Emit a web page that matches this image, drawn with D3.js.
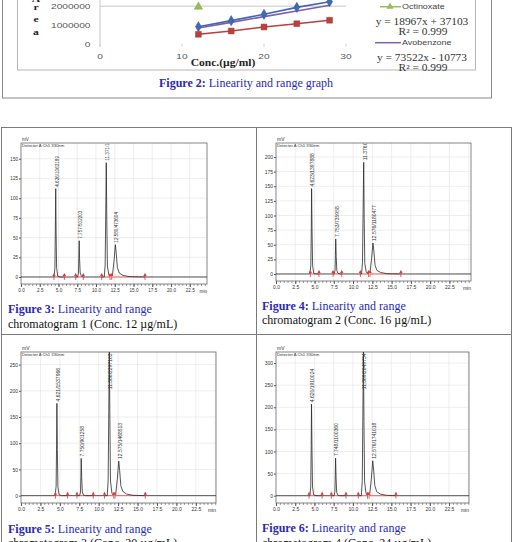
<!DOCTYPE html>
<html>
<head>
<meta charset="utf-8">
<script src="https://cdn.jsdelivr.net/npm/d3@7"></script>
<style>
  body { margin: 0; background: #fff; }
  svg { display: block; }
</style>
</head>
<body>
<svg id="page" width="513" height="542"></svg>
<script>
// ---------- Figure 2 (linearity graph, top cut off) ----------
const concentrations = [12, 16, 20, 24, 28];
const areaBlue = [935000, 1250000, 1580000, 1940000, 2230000];
const areaAvobenzone = [870000, 1160000, 1460000, 1750000, 2050000];
const areaRed = [540000, 710000, 920000, 1090000, 1270000];
const areaOctinoxate = [1970000];          // only the 12 ug/ml point is inside the frame
const concTicks = [0, 10, 20, 30];
const areaTicks = [0, 1000000, 2000000];
const legendNames = ["Octinoxate", "Avobenzone"];
const legendEquations = ["y = 18967x + 37103", "y = 73522x - 10773"];
const legendR2 = ["R² = 0.999", "R² = 0.999"];

// ---------- Chromatograms ----------
// [time (min), signal (mV)]
const trace1 = [[0,0],[4.40,0],[4.52,11],[4.58,62],[4.63,112],[4.68,56],[4.75,11],[4.90,1],[5.20,0],
  [7.55,0],[7.66,5],[7.71,25],[7.76,46],[7.81,23],[7.89,5],[8.05,1],[8.30,0],
  [11.10,0],[11.22,15],[11.30,80],[11.37,145],[11.44,72],[11.52,14],[11.70,3],[11.85,1],
  [12.20,3],[12.40,20],[12.58,41],[12.70,30],[12.85,12],[13.10,5],[13.60,2],[14.40,0.5],[16.5,0],[24.8,0]];
const trace2 = [[0,0],[4.40,0],[4.52,15],[4.58,80],[4.62,146],[4.68,72],[4.75,14],[4.90,1],[5.20,0],
  [7.55,0],[7.66,6],[7.71,32],[7.75,60],[7.81,30],[7.89,6],[8.05,1],[8.30,0],
  [11.10,0],[11.22,20],[11.30,105],[11.38,191],[11.44,95],[11.52,18],[11.70,4],[11.85,1],
  [12.20,3],[12.40,26],[12.58,53],[12.70,39],[12.85,15],[13.10,6],[13.60,2.5],[14.40,0.5],[16.2,0],[25.3,0]];
const trace3 = [[0,0],[4.40,0],[4.52,18],[4.58,97],[4.62,176],[4.68,88],[4.75,17],[4.90,2],[5.20,0],
  [7.55,0],[7.66,7],[7.71,38],[7.75,71],[7.81,35],[7.89,7],[8.05,1],[8.30,0],
  [11.10,0],[11.22,30],[11.30,160],[11.37,290],[11.44,145],[11.52,28],[11.70,5],[11.85,1.5],
  [12.20,4],[12.40,32],[12.58,66],[12.70,48],[12.85,19],[13.10,8],[13.60,3],[14.40,0.7],[16.0,0],[25.1,0]];
const trace4 = [[0,0],[4.40,0],[4.52,21],[4.58,114],[4.62,207],[4.68,103],[4.75,20],[4.90,2],[5.20,0],
  [7.55,0],[7.66,9],[7.71,45],[7.75,85],[7.81,42],[7.89,8],[8.05,1],[8.30,0],
  [11.10,0],[11.22,34],[11.30,185],[11.37,335],[11.44,168],[11.52,32],[11.70,6],[11.85,2],
  [12.20,5],[12.40,38],[12.58,79],[12.70,58],[12.85,23],[13.10,9],[13.60,3.5],[14.40,0.8],[15.6,0],[25.1,0]];

// peak apex [time, mV, label]
const peaks1 = [[4.63,112,"4.626/1063189"],[7.76,46,"7.757/502203"],[11.37,145,"11.371/1431608"],[12.58,41,"12.580/473604"]];
const peaks2 = [[4.62,146,"4.623/1397888"],[7.75,60,"7.753/735958"],[11.38,191,"11.376/1870836"],[12.58,53,"12.576/1180477"]];
const peaks3 = [[4.62,176,"4.621/1537966"],[7.75,71,"7.750/901258"],[11.37,290,"11.366/2297103"],[12.58,66,"12.575/1468513"]];
const peaks4 = [[4.62,207,"4.620/1910024"],[7.75,85,"7.748/1100360"],[11.37,335,"11.369/2649734"],[12.58,79,"12.576/1741018"]];

// integration start/end marks (min)
const events1 = [4.40, 5.78, 7.29, 8.31, 10.76, 11.87, 12.09, 16.53];
const events2 = [4.46, 5.58, 7.40, 8.53, 10.95, 12.00, 12.20, 16.20];
const events3 = [4.43, 6.00, 7.20, 9.30, 10.75, 11.95, 12.10, 16.00];
const events4 = [4.30, 6.00, 7.20, 9.10, 10.70, 11.90, 12.10, 15.60];

const yTicks1 = [0, 25, 50, 75, 100, 125, 150];
const yTicks2 = [0, 25, 50, 75, 100, 125, 150, 175, 200];
const yTicks3 = [0, 50, 100, 150, 200, 250];
const yTicks4 = [0, 50, 100, 150, 200, 250, 300];
const timeTicks = [0, 2.5, 5, 7.5, 10, 12.5, 15, 17.5, 20, 22.5];

const figNumbers = ["Figure 3:", "Figure 4:", "Figure 5:", "Figure 6:"];
const figTitles = ["chromatogram 1 (Conc. 12 µg/mL)", "chromatogram 2 (Conc. 16 µg/mL)",
                   "chromatogram 3 (Conc. 20 µg/mL)", "chromatogram 4 (Conc. 24 µg/mL)"];

const svg = d3.select("#page");
const blueCap = "#2a2ab4";

function wideText(sel, x, y, str, sx, anchor) {
  return sel.append("text")
    .attr("transform", `translate(${x},${y}) scale(${sx},1)`)
    .attr("text-anchor", anchor || "start")
    .text(str);
}

// ===== Figure 2 =====
const fig2 = svg.append("g");
fig2.append("rect").attr("x", 2.5).attr("y", -20).attr("width", 489).attr("height", 118)
  .attr("fill", "none").attr("stroke", "#8a8a8a").attr("stroke-width", 1);
fig2.append("rect").attr("x", 17.5).attr("y", -20).attr("width", 458).attr("height", 90)
  .attr("fill", "none").attr("stroke", "#b5b5b5").attr("stroke-width", 1);

const xLin = d3.scaleLinear().domain([0, 30]).range([100, 346]);
const yLin = d3.scaleLinear().domain([0, 2000000]).range([44.7, 6.2]);

// gridline + axis
fig2.append("line").attr("x1", xLin(0)).attr("x2", xLin(30))
  .attr("y1", yLin(2000000)).attr("y2", yLin(2000000)).attr("stroke", "#c8c8c8");
fig2.append("line").attr("x1", xLin(0)).attr("x2", xLin(0))
  .attr("y1", -10).attr("y2", yLin(0) + 2).attr("stroke", "#c8c8c8");
concTicks.forEach(t => {
  fig2.append("line").attr("x1", xLin(t)).attr("x2", xLin(t))
    .attr("y1", yLin(0) - 1).attr("y2", yLin(0) + 2).attr("stroke", "#cfcfcf");
});

const tickG = fig2.append("g").attr("font-family", "Liberation Sans, Arial, sans-serif")
  .attr("font-size", 7).attr("fill", "#555");
areaTicks.forEach(v => wideText(tickG, 90.5, yLin(v) + 2.5, String(v), 1.45, "end"));
concTicks.forEach(v => wideText(tickG, xLin(v), 59, String(v), 1.45, "middle"));

const titleG = fig2.append("g").attr("font-family", "Liberation Serif, Times New Roman, serif")
  .attr("font-weight", "bold").attr("fill", "#222");
wideText(titleG, 223, 66, "Conc.(µg/ml)", 1.1, "middle").attr("font-size", 10.5);
["A", "r", "e", "a"].forEach((ch, i) => {
  wideText(titleG, 36, [1.5, 10, 22, 34.5][i], ch, 1.3, "middle").attr("font-size", 9);
});

const lineGen = d3.line().x(d => xLin(d[0])).y(d => yLin(d[1]));
const series = [
  { vals: areaAvobenzone, color: "#7d60a8", marker: null },
  { vals: areaBlue, color: "#4068b4", marker: "diamond" },
  { vals: areaRed, color: "#b8413e", marker: "square" },
  { vals: areaOctinoxate, color: "#9bbb59", marker: "triangle" }
];
const symbolType = { diamond: d3.symbolDiamond, square: d3.symbolSquare, triangle: d3.symbolTriangle };
series.forEach(s => {
  const pts = s.vals.map((v, i) => [concentrations[i], v]);
  if (pts.length > 1) {
    fig2.append("path").datum(pts).attr("d", lineGen).attr("fill", "none")
      .attr("stroke", s.color).attr("stroke-width", 1.6);
  }
  if (s.marker) {
    fig2.selectAll(null).data(pts).enter().append("path")
      .attr("transform", d => `translate(${xLin(d[0])},${yLin(d[1])})`)
      .attr("d", d3.symbol().type(symbolType[s.marker]).size(s.marker === "square" ? 34 : 30))
      .attr("fill", s.color).attr("stroke", d3.color(s.color).darker(0.4)).attr("stroke-width", 0.5);
  }
});

// legend (visible part)
const legendColors = ["#9bbb59", "#7d60a8"];
const legendRowY = [6.7, 42.7];
const legG = fig2.append("g");
legendNames.forEach((name, i) => {
  const y = legendRowY[i];
  legG.append("line").attr("x1", i === 0 ? 380 : 375).attr("x2", 401).attr("y1", y).attr("y2", y)
    .attr("stroke", legendColors[i]).attr("stroke-width", 1.5);
  if (i === 0) {
    legG.append("path").attr("transform", `translate(390,${y})`)
      .attr("d", d3.symbol().type(d3.symbolTriangle).size(22)).attr("fill", legendColors[i]);
  }
  wideText(legG, 402, y + 2.6, name, 1.28, "start")
    .attr("font-family", "Liberation Sans, Arial, sans-serif").attr("font-size", 7).attr("fill", "#444");
  wideText(legG, 422, y + 18.5, legendEquations[i], 1.2, "middle")
    .attr("font-family", "Liberation Serif, Times New Roman, serif").attr("font-size", 9.5).attr("fill", "#333");
  wideText(legG, 423, y + 28.5, legendR2[i], 1.2, "middle")
    .attr("font-family", "Liberation Serif, Times New Roman, serif").attr("font-size", 9.5).attr("fill", "#333");
});

const cap2 = fig2.append("text").attr("x", 246).attr("y", 87).attr("text-anchor", "middle")
  .attr("font-family", "Liberation Serif, Times New Roman, serif").attr("font-size", 12).attr("fill", blueCap);
cap2.append("tspan").attr("font-weight", "bold").text("Figure 2:");
cap2.append("tspan").text(" Linearity and range graph");

// ===== table frame =====
const frame = svg.append("g").attr("stroke", "#7a7a7a").attr("stroke-width", 1);
frame.append("line").attr("x1", 1).attr("x2", 512).attr("y1", 127.5).attr("y2", 127.5);
frame.append("line").attr("x1", 1).attr("x2", 512).attr("y1", 334.5).attr("y2", 334.5);
frame.append("line").attr("x1", 1.5).attr("x2", 1.5).attr("y1", 127).attr("y2", 542);
frame.append("line").attr("x1", 256.5).attr("x2", 256.5).attr("y1", 127).attr("y2", 542);
frame.append("line").attr("x1", 511.5).attr("x2", 511.5).attr("y1", 127).attr("y2", 542);

// ===== chromatogram panels =====
const panels = [
  { trace: trace1, peaks: peaks1, events: events1, yTicks: yTicks1,
    left: 21, right: 207, top: 143, bottom: 284, yMin: -8.9, yMax: 170, tMax: 24.8,
    capX: 8, capY: 313, capY2: 327.5, font: 4.6 },
  { trace: trace2, peaks: peaks2, events: events2, yTicks: yTicks2,
    left: 276, right: 471, top: 143, bottom: 281, yMin: -12, yMax: 224, tMax: 25.3,
    capX: 262, capY: 309.5, capY2: 324, font: 5 },
  { trace: trace3, peaks: peaks3, events: events3, yTicks: yTicks3,
    left: 21, right: 216, top: 352, bottom: 503, yMin: -14, yMax: 274, tMax: 25.1,
    capX: 8, capY: 532.5, capY2: 547, font: 5 },
  { trace: trace4, peaks: peaks4, events: events4, yTicks: yTicks4,
    left: 276, right: 469, top: 352, bottom: 503, yMin: -16.5, yMax: 325, tMax: 25.1,
    capX: 262, capY: 532, capY2: 546.5, font: 5 }
];

panels.forEach((p, idx) => {
  const g = svg.append("g");
  const x = d3.scaleLinear().domain([0, p.tMax]).range([p.left, p.right]);
  const y = d3.scaleLinear().domain([p.yMin, p.yMax]).range([p.bottom, p.top]);
  const clipId = "clip" + idx;
  g.append("clipPath").attr("id", clipId).append("rect")
    .attr("x", p.left).attr("y", p.top).attr("width", p.right - p.left).attr("height", p.bottom - p.top);

  // grid
  g.selectAll(null).data(timeTicks.slice(1).concat([25]).filter(t => t < p.tMax)).enter().append("line")
    .attr("x1", d => x(d)).attr("x2", d => x(d)).attr("y1", p.top).attr("y2", p.bottom)
    .attr("stroke", "#e2e2e2").attr("stroke-width", 0.6);
  g.selectAll(null).data(p.yTicks).enter().append("line")
    .attr("x1", p.left).attr("x2", p.right).attr("y1", d => y(d)).attr("y2", d => y(d))
    .attr("stroke", "#e2e2e2").attr("stroke-width", 0.6);

  // axes
  const yAxis = d3.axisLeft(y).tickValues(p.yTicks).tickSize(2).tickPadding(1);
  g.append("g").attr("transform", `translate(${p.left},0)`).call(yAxis)
    .call(a => a.select(".domain").remove())
    .call(a => a.selectAll("text").attr("font-size", p.font).attr("font-family", "Liberation Sans, Arial, sans-serif").attr("fill", "#333"))
    .call(a => a.selectAll("line").attr("stroke", "#555"));
  const xAxis = d3.axisBottom(x).tickValues(timeTicks).tickSize(3).tickPadding(1.5).tickFormat(d3.format(".1f"));
  g.append("g").attr("transform", `translate(0,${p.bottom})`).call(xAxis)
    .call(a => a.select(".domain").remove())
    .call(a => a.selectAll("text").attr("font-size", p.font).attr("font-family", "Liberation Sans, Arial, sans-serif").attr("fill", "#333"))
    .call(a => a.selectAll("line").attr("stroke", "#555"));
  const minor = d3.range(0, Math.floor(p.tMax * 2) + 1).map(k => k * 0.5);
  g.append("g").attr("transform", `translate(0,${p.bottom})`)
    .call(d3.axisBottom(x).tickValues(minor).tickSize(2).tickFormat(""))
    .call(a => a.select(".domain").remove())
    .call(a => a.selectAll("line").attr("stroke", "#555").attr("stroke-width", 0.6));
  g.append("text").attr("x", p.right).attr("y", p.bottom + 3 + p.font + 1)
    .attr("text-anchor", "end").attr("font-size", p.font)
    .attr("font-family", "Liberation Sans, Arial, sans-serif").attr("fill", "#333").text("min");
  g.append("text").attr("x", p.left + 1).attr("y", p.top - 2.5)
    .attr("font-size", p.font).attr("font-family", "Liberation Sans, Arial, sans-serif").attr("fill", "#333").text("mV");

  // box
  g.append("rect").attr("x", p.left).attr("y", p.top).attr("width", p.right - p.left).attr("height", p.bottom - p.top)
    .attr("fill", "none").attr("stroke", "#666").attr("stroke-width", 0.8);
  g.append("text").attr("x", p.left + 1).attr("y", p.top + 4.3)
    .attr("font-size", 4.2).attr("font-family", "Liberation Sans, Arial, sans-serif").attr("fill", "#333")
    .text("Detector A Ch1 330nm");

  const plot = g.append("g").attr("clip-path", `url(#${clipId})`);
  // integration baselines + marks
  const ev = p.events;
  for (let k = 0; k + 1 < ev.length; k += 2) {
    plot.append("line").attr("x1", x(ev[k])).attr("x2", x(ev[k + 1])).attr("y1", y(0)).attr("y2", y(0))
      .attr("stroke", "#e23a3a").attr("stroke-width", 0.8);
  }
  // trace
  const traceLine = d3.line().x(d => x(d[0])).y(d => y(d[1]));
  plot.append("path").datum(p.trace).attr("d", traceLine).attr("fill", "none")
    .attr("stroke", "#2a2a2a").attr("stroke-width", 0.8);
  ev.forEach(t => {
    plot.append("line").attr("x1", x(t)).attr("x2", x(t)).attr("y1", y(0) + 3).attr("y2", y(0) - 3)
      .attr("stroke", "#e23a3a").attr("stroke-width", 0.8);
    plot.append("path").attr("transform", `translate(${x(t)},${y(0) - 2})`)
      .attr("d", d3.symbol().type(d3.symbolTriangle).size(5)).attr("fill", "#e23a3a");
  });
  // peak labels
  p.peaks.forEach(pk => {
    const px = x(pk[0]) + 2.8;
    const apex = y(pk[1]);
    const offScale = apex < p.top + 10;
    const ly = offScale ? p.top + 1.5 : apex - 2;
    plot.append("text")
      .attr("transform", `translate(${px},${ly}) rotate(-90)`)
      .attr("text-anchor", offScale ? "end" : "start")
      .attr("font-size", p.font).attr("font-family", "Liberation Sans, Arial, sans-serif").attr("fill", "#333")
      .text(pk[2]);
  });

  // caption
  const cap = g.append("g").attr("font-family", "Liberation Serif, Times New Roman, serif").attr("font-size", 12);
  const line1 = cap.append("text").attr("x", p.capX).attr("y", p.capY).attr("fill", blueCap);
  line1.append("tspan").attr("font-weight", "bold").text(figNumbers[idx]);
  line1.append("tspan").text(" Linearity and range");
  cap.append("text").attr("x", p.capX).attr("y", p.capY2).attr("fill", "#111").text(figTitles[idx]);
});
</script>
</body>
</html>
